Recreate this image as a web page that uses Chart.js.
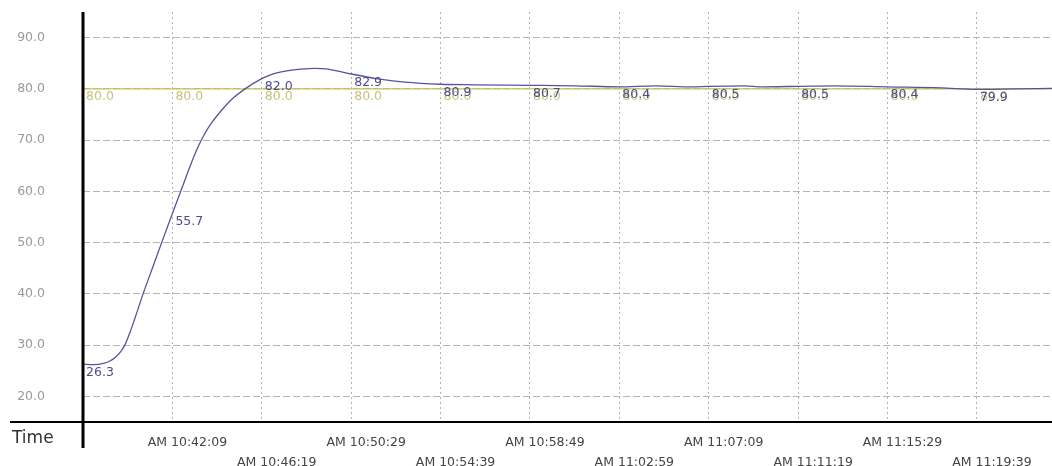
<!DOCTYPE html>
<html>
<head>
<meta charset="utf-8">
<script src="https://cdn.jsdelivr.net/npm/chart.js@4.4.0/dist/chart.umd.min.js"></script>
<style>
    html, body { margin: 0; padding: 0; background: #fff; }
    #wrap { width: 1052px; height: 466px; position: relative; }
</style>
</head>
<body>
<div id="wrap"><canvas id="trend_chart"></canvas></div>
<script>
// seconds since AM 10:37:59
const timeSec = [0, 30, 60, 75, 90, 105, 117, 130, 145, 168, 195, 221, 250, 277, 300, 320, 340, 360, 380, 400, 420, 453, 500,
    530, 570, 610, 649, 680, 710, 750, 830, 900, 1000, 1100, 1250, 1375, 1500, 1600, 1700, 1750, 1850, 1900,
    2000, 2100, 2250, 2400, 2500, 2600, 2710];
const pvValues = [26.3, 26.2, 26.5, 26.9, 27.6, 28.7, 30.0, 32.2, 35.2, 40.0, 45.2, 50.2, 55.7, 60.7, 65.0, 68.4, 71.2, 73.4, 75.2, 76.8, 78.2, 80.0, 82.0,
    82.9, 83.5, 83.85, 84.0, 83.9, 83.5, 82.9, 81.9, 81.3, 80.9, 80.8, 80.7, 80.6, 80.4, 80.6, 80.4, 80.5, 80.6, 80.4,
    80.5, 80.6, 80.4, 80.2, 79.9, 80.0, 80.1];

const spTimes = [0, 2710];
const spValues = [80.0, 80.0];

// values printed at each time grid line
const labelTimes = [0, 250, 500, 750, 1000, 1250, 1500, 1750, 2000, 2250, 2500];
const pvLabelValues = [26.3, 55.7, 82.0, 82.9, 80.9, 80.7, 80.4, 80.5, 80.5, 80.4, 79.9];
const spLabelValues = [80.0, 80.0, 80.0, 80.0, 80.0, 80.0, 80.0, 80.0, 80.0, 80.0, 80.0];

const tickLabels = ['', 'AM 10:42:09', 'AM 10:46:19', 'AM 10:50:29', 'AM 10:54:39', 'AM 10:58:49',
    'AM 11:02:59', 'AM 11:07:09', 'AM 11:11:19', 'AM 11:15:29', 'AM 11:19:39'];
const yTicks = [20, 30, 40, 50, 60, 70, 80, 90];

const FONT = 'DejaVu Sans';

function toPoints(xs, ys) {
    return xs.map((x, i) => ({ x: x, y: ys[i] }));
}

// value labels + thick axis lines + "Time"
const trendDecor = {
    id: 'trendDecor',
    afterDatasetsDraw(chart) {
        const ctx = chart.ctx;
        const area = chart.chartArea;
        ctx.save();
        ctx.font = '12.5px "' + FONT + '"';
        ctx.textAlign = 'left';
        ctx.textBaseline = 'top';
        chart.data.datasets.forEach((ds, i) => {
            if (!ds.isLabels) return;
            const meta = chart.getDatasetMeta(i);
            ctx.fillStyle = ds.labelColor;
            meta.data.forEach((el, j) => {
                ctx.fillText(ds.data[j].y.toFixed(1), el.x + 3, el.y + 2);
            });
        });

        ctx.strokeStyle = '#000';
        ctx.lineWidth = 2;
        ctx.beginPath();
        ctx.moveTo(10, area.bottom);
        ctx.lineTo(chart.width, area.bottom);
        ctx.stroke();

        ctx.lineWidth = 3;
        ctx.beginPath();
        ctx.moveTo(area.left, area.top);
        ctx.lineTo(area.left, 448);
        ctx.stroke();

        ctx.fillStyle = '#333';
        ctx.font = '17px "' + FONT + '"';
        ctx.textBaseline = 'middle';
        ctx.fillText('Time', 12, 439);
        ctx.restore();
    }
};

const ctx = document.getElementById('trend_chart').getContext('2d');
const trendChart = new Chart(ctx, {
    type: 'line',
    data: {
        datasets: [
            {
                label: 'PV',
                data: toPoints(timeSec, pvValues),
                borderColor: '#55559a',
                borderWidth: 1.3,
                pointRadius: 0,
                cubicInterpolationMode: 'monotone'
            },
            {
                label: 'SP',
                data: toPoints(spTimes, spValues),
                borderColor: '#c8c05a',
                borderWidth: 1.2,
                pointRadius: 0
            },
            {
                label: 'SP labels',
                data: toPoints(labelTimes, spLabelValues),
                showLine: false,
                pointRadius: 0,
                isLabels: true,
                labelColor: '#c9c27a'
            },
            {
                label: 'PV labels',
                data: toPoints(labelTimes, pvLabelValues),
                showLine: false,
                pointRadius: 0,
                isLabels: true,
                labelColor: '#4d4d8c'
            }
        ]
    },
    options: {
        responsive: true,
        maintainAspectRatio: false,
        animation: false,
        layout: { padding: { top: 12, right: 0, left: 0, bottom: 0 } },
        plugins: {
            legend: { display: false },
            tooltip: { enabled: false }
        },
        scales: {
            x: {
                type: 'linear',
                min: 0,
                max: 2710,
                afterBuildTicks: (scale) => {
                    scale.ticks = labelTimes.map(v => ({ value: v }));
                },
                afterFit: (scale) => { scale.height = 44; },
                border: { display: false, dash: [2, 3] },
                grid: {
                    color: '#b4b4b4',
                    lineWidth: 1,
                    drawTicks: false
                },
                ticks: {
                    autoSkip: false,
                    maxRotation: 0,
                    padding: 11,
                    labelOffset: 15,
                    color: '#444',
                    font: { family: FONT, size: 12.5, lineHeight: 1.6 },
                    callback: function(value, index) {
                        const text = tickLabels[index] || '';
                        return index % 2 === 1 ? [text, ''] : ['', text];
                    }
                }
            },
            y: {
                type: 'linear',
                min: 15,
                max: 95,
                afterBuildTicks: (scale) => {
                    scale.ticks = yTicks.map(v => ({ value: v }));
                },
                afterFit: (scale) => { scale.width = 83; },
                border: { display: false, dash: [7, 3] },
                grid: {
                    color: '#b4b4b4',
                    lineWidth: 1,
                    drawTicks: true,
                    tickLength: 38,
                    tickColor: 'rgba(0,0,0,0)'
                },
                ticks: {
                    padding: 0,
                    color: '#9a9a9a',
                    font: { family: FONT, size: 12.5 },
                    callback: function(value) {
                        return Number(value).toFixed(1);
                    }
                }
            }
        }
    },
    plugins: [trendDecor]
});
</script>
</body>
</html>
